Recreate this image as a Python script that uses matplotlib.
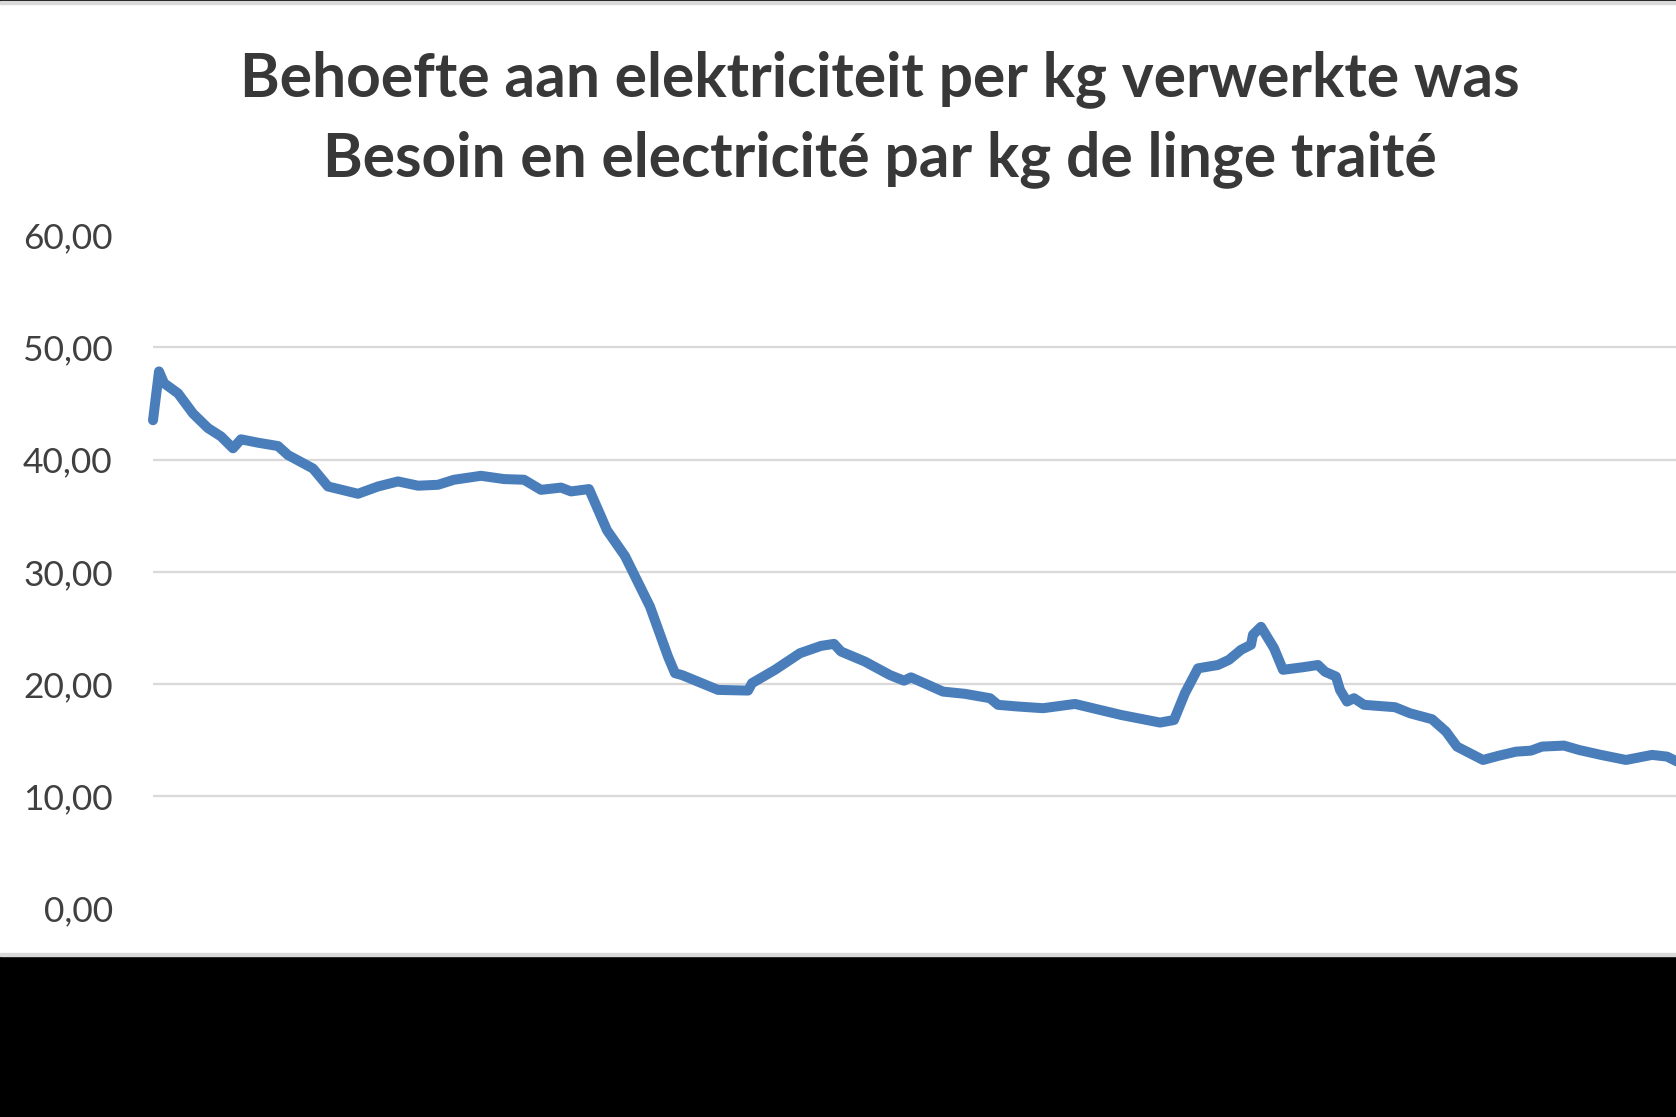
import matplotlib
matplotlib.use('Agg')
import matplotlib.pyplot as plt
from matplotlib.patches import Rectangle

# Observation index (left to right) and kWh per kg of processed laundry
obs = [0, 6, 11, 25, 40, 55, 68, 80, 88, 105, 125, 135, 160, 175, 205, 225,
       245, 265, 285, 301, 328, 351, 371, 388, 408, 418, 436, 454, 472, 497,
       515, 522, 529, 565, 595, 599, 622, 647, 668, 681, 688, 712, 737, 751,
       758, 790, 812, 837, 845, 865, 890, 922, 944, 968, 1007, 1021, 1032,
       1045, 1065, 1076, 1088, 1098, 1100, 1108, 1121, 1130, 1150, 1165, 1172,
       1183, 1187, 1194, 1201, 1211, 1242, 1257, 1279, 1293, 1304, 1330, 1345,
       1363, 1378, 1389, 1411, 1426, 1448, 1473, 1499, 1514, 1524]
kwh_per_kg = [43.5, 47.85, 46.8, 45.9, 44.1, 42.8, 42.06, 41.0, 41.8, 41.5,
              41.2, 40.4, 39.2, 37.6, 36.95, 37.6, 38.05, 37.67, 37.75, 38.2,
              38.55, 38.26, 38.2, 37.3, 37.5, 37.16, 37.37, 33.7, 31.4, 26.9,
              22.45, 20.97, 20.8, 19.48, 19.42, 20.08, 21.27, 22.75, 23.4,
              23.58, 22.9, 22.0, 20.8, 20.3, 20.6, 19.33, 19.13, 18.74, 18.15,
              18.0, 17.85, 18.23, 17.76, 17.25, 16.57, 16.8, 19.2, 21.4, 21.7,
              22.16, 23.05, 23.5, 24.4, 25.1, 23.2, 21.27, 21.5, 21.7, 21.1,
              20.67, 19.48, 18.44, 18.74, 18.15, 17.94, 17.4, 16.87, 15.77,
              14.43, 13.24, 13.6, 13.98, 14.07, 14.43, 14.52, 14.13, 13.69,
              13.24, 13.69, 13.54, 13.1]

y_ticks = [0, 10, 20, 30, 40, 50, 60]
y_labels = ['0,00', '10,00', '20,00', '30,00', '40,00', '50,00', '60,00']

title_nl = 'Behoefte aan elektriciteit per kg verwerkte was'
title_fr = 'Besoin en electricité par kg de linge traité'

W, H = 1676, 1117
fig = plt.figure(figsize=(W / 100, H / 100), dpi=100)

# plot area: left edge at 153 px, runs past the right border (cropped chart)
ax = fig.add_axes([153 / W, (H - 908.6) / H, 1 - 153 / W, (908.6 - 235) / H])
ax.plot(obs, kwh_per_kg, color='#4a7ebb', lw=7.2, solid_joinstyle='round',
        solid_capstyle='round', zorder=3, clip_on=False)
ax.set_xlim(0, 1523)
ax.set_ylim(0, 60)
ax.set_yticks(y_ticks)
ax.set_yticklabels(y_labels, fontfamily='Lato', fontsize=25.5, color='#404040')
ax.tick_params(axis='y', length=0, pad=29)
ax.set_xticks([])
for spine in ax.spines.values():
    spine.set_visible(False)

# light gridlines between the end ticks only
for v in y_ticks[1:-1]:
    ax.axhline(v, color='#d9d9d9', lw=1.6, zorder=1)

title_x = 880 / W
fig.text(title_x, 1 - 96.7 / H, title_nl, ha='center', va='baseline',
         fontfamily='Lato', fontweight='bold', fontsize=43.6, color='#383838')
fig.text(title_x, 1 - 176.7 / H, title_fr, ha='center', va='baseline',
         fontfamily='Lato', fontweight='bold', fontsize=43.6, color='#383838')

# frame bits of the screenshot: thin bars at top, black band at the bottom
fig.patches.append(Rectangle((0, 1 - 1 / H), 1, 1 / H, transform=fig.transFigure,
                             color='black', zorder=0))
fig.patches.append(Rectangle((0, 1 - 4.3 / H), 1, 3.3 / H, transform=fig.transFigure,
                             color='#d9d9d9', zorder=0))
fig.patches.append(Rectangle((0, 0), 1, (H - 955.7) / H, transform=fig.transFigure,
                             color='black', zorder=0))
fig.patches.append(Rectangle((0, (H - 955.7) / H), 1, 3 / H, transform=fig.transFigure,
                             color='#d9d9d9', zorder=0))

fig.savefig('out.png', dpi=100)
